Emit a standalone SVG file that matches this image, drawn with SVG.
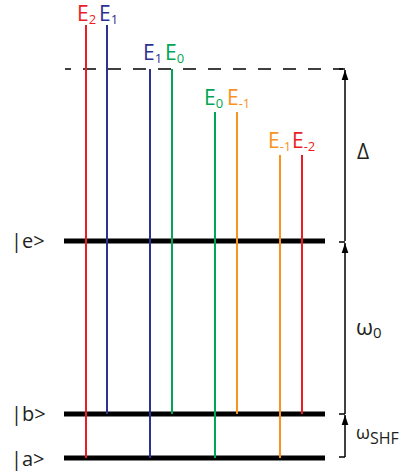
<svg xmlns="http://www.w3.org/2000/svg" width="403" height="475" viewBox="0 0 403 475">
<style>
text{font-family:"Open Sans","Liberation Sans",sans-serif}
.lab{font-size:21px}
.sub{font-size:13px}
.lvl{stroke:#000;stroke-width:5;fill:none}
.tr{stroke-width:2;fill:none}
.red{stroke:#ec1c24}.blue{stroke:#2e3192}.green{stroke:#00a651}.orange{stroke:#f7941d}
.tred{fill:#ec1c24}.tblue{fill:#2e3192}.tgreen{fill:#00a651}.torange{fill:#f7941d}
.ax{stroke:#000;stroke-width:1.5;fill:none}
.st{font-size:20px;fill:#231f20}
</style>
<defs>
<marker id="ah" markerWidth="10" markerHeight="15" refX="15" refY="5" viewBox="0 0 15 10" orient="auto" markerUnits="userSpaceOnUse">
<path d="M0,0 L15,5 L0,10 z" fill="#000"/>
</marker>
</defs>
<g id="dashed">
<line x1="65" y1="69" x2="343" y2="69" stroke="#000" stroke-width="1.5" stroke-dasharray="13 12" stroke-dashoffset="7"/>
</g>
<g id="level-e"><line class="lvl" x1="64" y1="241" x2="325" y2="241"/><text class="st" x="11" y="248">|e&gt;</text></g>
<g id="level-b"><line class="lvl" x1="64" y1="414" x2="325" y2="414"/><text class="st" x="11" y="421">|b&gt;</text></g>
<g id="level-a"><line class="lvl" x1="64" y1="458" x2="325" y2="458"/><text class="st" x="11" y="466">|a&gt;</text></g>
<g id="connectors">
<line class="tr red" x1="86" y1="25" x2="86" y2="458"/>
<line class="tr blue" x1="107" y1="25" x2="107" y2="414"/>
<line class="tr blue" x1="150" y1="69" x2="150" y2="458"/>
<line class="tr green" x1="172" y1="69" x2="172" y2="414"/>
<line class="tr green" x1="215" y1="112" x2="215" y2="458"/>
<line class="tr orange" x1="237" y1="112" x2="237" y2="414"/>
<line class="tr orange" x1="280" y1="155" x2="280" y2="458"/>
<line class="tr red" x1="302" y1="155" x2="302" y2="414"/>
<line class="ax" x1="345" y1="457" x2="345" y2="415" marker-end="url(#ah)"/>
<line class="ax" x1="345" y1="414" x2="345" y2="243" marker-end="url(#ah)"/>
<line class="ax" x1="345" y1="241" x2="345" y2="70" marker-end="url(#ah)"/>
<path class="ax" d="M339,69H345M339,242H345M339,414H345M339,457H345"/>
</g>
<g id="labels-1">
<text class="lab tred" x="77" y="21">E<tspan class="sub" dy="3">2</tspan></text>
<text class="lab tblue" x="99" y="21">E<tspan class="sub" dy="3">1</tspan></text>
</g>
<g id="labels-2">
<text class="lab tblue" x="143" y="60">E<tspan class="sub" dy="3">1</tspan></text>
<text class="lab tgreen" x="165" y="60">E<tspan class="sub" dy="3">0</tspan></text>
</g>
<g id="labels-3">
<text class="lab tgreen" x="204" y="105">E<tspan class="sub" dy="3">0</tspan></text>
<text class="lab torange" x="227" y="105">E<tspan class="sub" dy="3">-1</tspan></text>
</g>
<g id="labels-4">
<text class="lab torange" x="268" y="148">E<tspan class="sub" dy="3">-1</tspan></text>
<text class="lab tred" x="292" y="148">E<tspan class="sub" dy="3">-2</tspan></text>
</g>
<g id="axis-labels">
<text x="357" y="159" font-size="21" fill="#231f20">Δ</text>
<text x="356" y="335" font-size="22" fill="#231f20">ω<tspan font-size="15" dy="3">0</tspan></text>
<text x="356" y="439" font-size="18" fill="#231f20">ω<tspan font-size="16" dy="5">SHF</tspan></text>
</g>
</svg>
